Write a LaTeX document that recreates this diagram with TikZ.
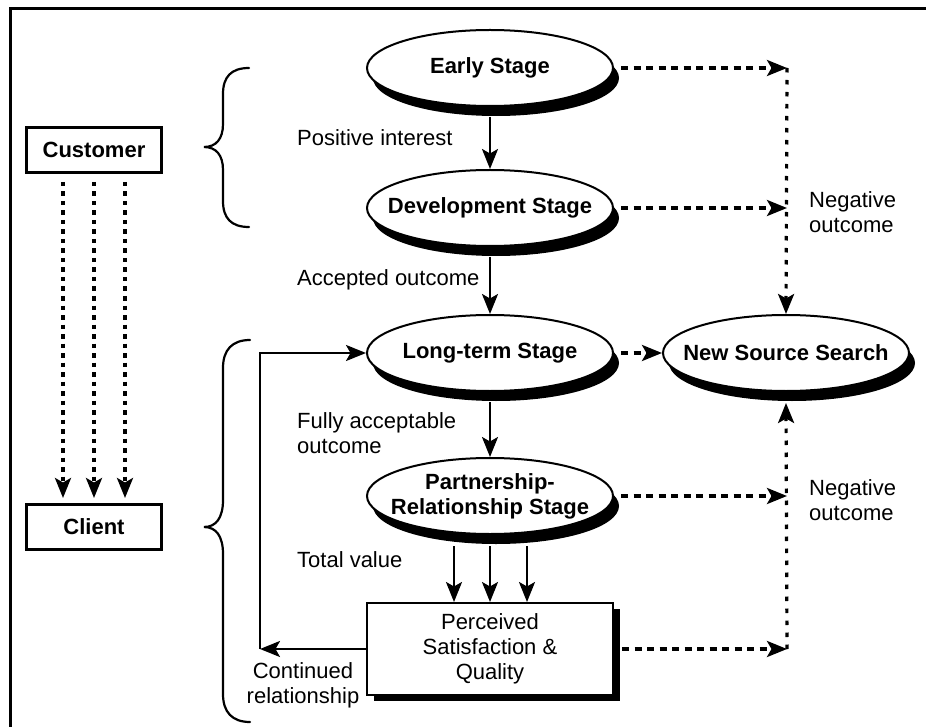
\documentclass[tikz,border=0pt]{standalone}
\usepackage{fontspec}
\setmainfont{Liberation Sans}
\usetikzlibrary{arrows.meta,shadows,shapes.geometric}

\begin{document}
\begin{tikzpicture}[x=1pt,y=-1pt,
  txt/.style={font=\fontsize{22}{25}\selectfont},
  lbl/.style={txt, inner sep=0pt},
  stage/.style={ellipse, draw, line width=2pt, fill=white,
    minimum width=246pt, minimum height=76pt, inner sep=0pt,
    drop shadow={shadow xshift=6pt, shadow yshift=-10pt, opacity=1, fill=black}},
  stagetxt/.style={txt, font=\fontsize{22}{25}\selectfont\bfseries, align=center},
  rolebox/.style={rectangle, draw, line width=3pt, fill=white,
    minimum width=135pt, minimum height=45pt, inner sep=0pt,
    txt, font=\fontsize{22}{25}\selectfont\bfseries},
  valuebox/.style={rectangle, draw, line width=2pt, fill=white,
    minimum width=246pt, minimum height=92pt, align=center, txt,
    drop shadow={shadow xshift=7pt, shadow yshift=-6pt, opacity=1, fill=black}},
  tip/.style={-{Stealth[length=20pt,width=16pt,inset=4.5pt]}},
  arr/.style={tip, line width=2.3pt},
  hdots/.style={tip, line width=3.2pt, dash pattern=on 7pt off 5.5pt},
  vdots/.style={tip, line width=3.2pt, dash pattern=on 4.5pt off 7.5pt},
  cdots/.style={tip, line width=3.2pt, dash pattern=on 4.5pt off 5pt},
  brace/.style={line width=2.2pt, line cap=round}
]
\useasboundingbox (0,0) rectangle (926,727);

% page frame
\draw[line width=3pt] (10,727) -- (10,8.5) -- (926,8.5);

% stages of the relationship
\node[stage, label={[stagetxt]center:Early Stage}] (early) at (490,68) {};
\node[stage, label={[stagetxt]center:Development Stage}] (dev) at (490,208) {};
\node[stage, label={[stagetxt]center:Long-term Stage}] (long) at (490,353) {};
\node[stage, label={[stagetxt]center:{Partnership-\\Relationship Stage}}] (part) at (490,496) {};
\node[stage, label={[stagetxt]center:New Source Search}] (news) at (786,353) {};
\node[valuebox] (perc) at (490,649) {Perceived\\Satisfaction \&\\Quality};

% customer / client
\node[rolebox] (cust) at (94,150) {Customer};
\node[rolebox] (client) at (94,527) {Client};

% turning points on the right-hand and left-hand lines
\coordinate (r1) at (787,68);
\coordinate (r2) at (787,208);
\coordinate (r3) at (787,496);
\coordinate (r4) at (787,649);
\coordinate (loop) at (260,649);

% main path
\draw[arr] ([yshift=-10pt]early.south) -- (dev.north);
\draw[arr] ([yshift=-10pt]dev.south) -- (long.north);
\draw[arr] ([yshift=-10pt]long.south) -- (part.north);
\draw[arr] ([xshift=-36pt,yshift=-11pt]part.south) -- ([xshift=-36pt]perc.north);
\draw[arr] ([yshift=-11pt]part.south) -- (perc.north);
\draw[arr] ([xshift=37pt,yshift=-11pt]part.south) -- ([xshift=37pt]perc.north);
\draw[arr] (perc.west) -- (loop);
\draw[arr] (loop) |- (long.west);

% negative outcomes
\draw[hdots] ([xshift=7pt]early.east) -- (r1);
\draw[hdots] ([xshift=7pt]dev.east) -- (r2);
\draw[vdots] (r1) -- (news.north);
\draw[hdots] ([xshift=7pt]long.east) -- (news.west);
\draw[hdots] ([xshift=7pt]part.east) -- (r3);
\draw[hdots] ([xshift=8pt]perc.east) -- (r4);
\draw[vdots] (r4) -- ([yshift=-11pt]news.south);

% customer becomes client
\foreach \dx in {-31,0,31}
  \draw[cdots, shorten >=5pt] ([xshift=\dx pt,yshift=-8pt]cust.south) -- ([xshift=\dx pt]client.north);

% braces
\draw[brace] (249,68) .. controls (231,68) and (223,77) .. (223,94)
  -- (223,124) .. controls (223,139) and (216,147) .. (204,147)
  .. controls (216,147) and (223,155) .. (223,170)
  -- (223,201) .. controls (223,218) and (231,227) .. (249,227);
\draw[brace] (250,340) .. controls (232,340) and (223,350) .. (223,368)
  -- (223,500) .. controls (223,518) and (216,527) .. (204,527)
  .. controls (216,527) and (223,536) .. (223,554)
  -- (223,694) .. controls (223,712) and (232,722) .. (250,722);

% labels
\node[lbl, anchor=west] (lpos) at (297,138) {Positive interest};
\node[lbl, anchor=west] (lacc) at (297,280) {Accepted outcome};
\node[lbl, anchor=west, align=left] (lfull) at (297,433) {Fully acceptable\\outcome};
\node[lbl, anchor=west] (ltot) at (297,560) {Total value};
\node[lbl, align=center] (lcont) at (303,685) {Continued\\relationship};
\node[lbl, anchor=west, align=left] (lneg1) at (809,212) {Negative\\outcome};
\node[lbl, anchor=west, align=left] (lneg2) at (809,500) {Negative\\outcome};
\end{tikzpicture}
\end{document}
